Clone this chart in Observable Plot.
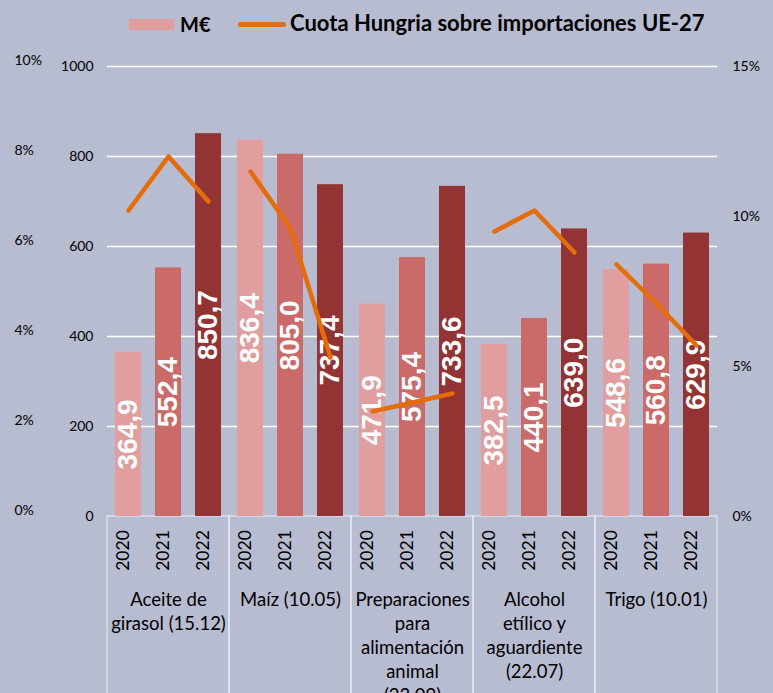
<!DOCTYPE html>
<html><head><meta charset="utf-8">
<script src="https://cdn.jsdelivr.net/npm/d3@7"></script>
<script src="https://cdn.jsdelivr.net/npm/@observablehq/plot@0.6"></script>
<style>
html,body{margin:0;padding:0;}
body{background:#B7BCD1;width:773px;height:693px;overflow:hidden;position:relative;font-family:Lato,sans-serif;color:#000;}
#chart{position:absolute;left:0;top:0;}
#legend{position:absolute;left:0;top:0;width:773px;height:50px;font-weight:bold;}
#legend .sw{position:absolute;}
#legend .lb{position:absolute;top:12px;line-height:24px;white-space:nowrap;}
</style></head><body>
<div id="chart"></div>
<div id="legend">
  <div class="sw" style="left:129px;top:19px;width:45px;height:11px;background:#E09E9E"></div>
  <div class="lb" style="left:180px;font-size:20px">M€</div>
  <div class="sw" style="left:238px;top:22px;width:48px;height:5px;border-radius:3px;background:#E46C0A"></div>
  <div class="lb" style="left:290px;font-size:22px;top:11px">Cuota Hungria sobre importaciones UE-27</div>
</div>
<script>
const categories = ["Aceite de girasol (15.12)", "Maíz (10.05)", "Preparaciones para alimentación animal (23.09)", "Alcohol etílico y aguardiente (22.07)", "Trigo (10.01)"];
const categoryLabels = ["Aceite de\ngirasol (15.12)", "Maíz (10.05)", "Preparaciones\npara\nalimentación\nanimal\n(23.09)", "Alcohol\netílico y\naguardiente\n(22.07)", "Trigo (10.01)"];
const years = ["2020", "2021", "2022"];
const valuesMEUR = [
  [364.9, 552.4, 850.7],
  [836.4, 805.0, 737.4],
  [471.9, 575.4, 733.6],
  [382.5, 440.1, 639.0],
  [548.6, 560.8, 629.9]
];
const shareHU = [
  [10.2, 12.0, 10.5],
  [11.5, 9.6, 5.3],
  [3.5, 3.8, 4.1],
  [9.5, 10.2, 8.8],
  [8.4, 7.1, 5.7]
];
const leftTicks = [0, 200, 400, 600, 800, 1000];
const leftPctTicks = [0, 2, 4, 6, 8, 10];
const rightPctTicks = [0, 5, 10, 15];
const yearColors = ["#E09E9E", "#CA6B6A", "#933434"];

const yMax = 1000, shareMax = 15;
const data = categories.flatMap((c, i) => years.map((y, j) => ({cat: c, year: y, value: valuesMEUR[i][j], share: shareHU[i][j]})));
const cats = categories.map((c, i) => ({cat: c, label: categoryLabels[i]}));
const fmt = v => v.toFixed(1).replace(".", ",");

const plot = Plot.plot({
  width: 773, height: 693,
  marginTop: 66, marginBottom: 177, marginLeft: 105, marginRight: 54,
  style: {background: "transparent", fontFamily: "Lato, sans-serif", fontSize: "14px", color: "#000", overflow: "visible"},
  fx: {domain: categories, padding: 0, axis: null},
  x: {domain: years, paddingInner: 0.34, paddingOuter: 0.17, axis: null},
  y: {domain: [0, yMax], axis: null},
  color: {domain: years, range: yearColors},
  marks: [
    Plot.gridY({ticks: leftTicks.slice(1), stroke: "#fff", strokeOpacity: 1, strokeWidth: 1.5}),
    Plot.rect(cats, {fx: "cat", y1: 0, y2: -420, fill: "none", stroke: "#EEF0F6", strokeWidth: 1}),
    Plot.barY(data, {fx: "cat", x: "year", y: "value", fill: "year"}),
    Plot.text(data, {fx: "cat", x: "year", y: d => d.value / 2, text: d => fmt(d.value), rotate: -90,
      fill: "#fff", fontWeight: "bold", fontSize: 28, fontFamily: "'Liberation Sans Narrow', 'Arial Narrow', sans-serif"}),
    Plot.line(data, {fx: "cat", x: "year", y: d => d.share / shareMax * yMax, stroke: "#E46C0A",
      strokeWidth: 4.5, strokeLinecap: "round", strokeLinejoin: "round"}),
    Plot.text(data, {fx: "cat", x: "year", text: "year", frameAnchor: "bottom", dy: 34, rotate: -90, fontSize: 17.5}),
    Plot.text(cats, {fx: "cat", text: "label", frameAnchor: "bottom", lineAnchor: "top", dy: 72, fontSize: 18.5, lineHeight: 1.3}),
    Plot.axisY({ticks: leftTicks, anchor: "left", label: null, tickSize: 0, tickPadding: 14, fontSize: 14, tickFormat: d => String(d)}),
    Plot.text(leftPctTicks, {fx: () => categories[0], y: d => d * 100, text: d => d + "%", frameAnchor: "left",
      dx: -93, dy: -6, textAnchor: "start", fontSize: 14}),
    Plot.axisY({ticks: rightPctTicks.map(p => p / shareMax * yMax), anchor: "right", label: null, tickSize: 0, tickPadding: 15,
      fontSize: 14, tickFormat: d => Math.round(d / yMax * shareMax) + "%"})
  ]
});
document.getElementById("chart").appendChild(plot);
</script>
</body></html>
